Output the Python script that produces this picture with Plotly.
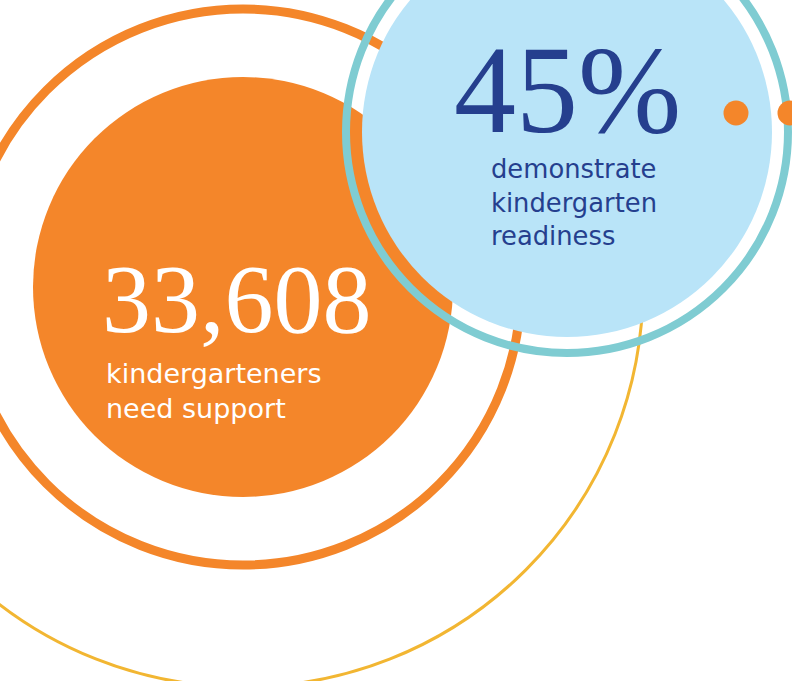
import plotly.graph_objects as go

W, H = 792, 681

# ---- data (the two headline statistics) ----
stat_values = ["33,608", "45%"]
stat_labels = ["kindergarteners<br>need support",
               "demonstrate<br>kindergarten<br>readiness"]

# ---- style / layout ----
ORANGE = "#F4862A"
YELLOW = "#F2B632"
TEAL = "#7FCCD2"
LIGHTBLUE = "#B9E4F8"
NAVY = "#253F8E"

orange_c = (243, 287)
blue_c = (567, 132)
circles = [
    (orange_c, 400, None, YELLOW, 3),
    (orange_c, 278, None, ORANGE, 9),
    (orange_c, 210, ORANGE, None, 0),
    (blue_c, 221, None, TEAL, 8),
    (blue_c, 205, LIGHTBLUE, None, 0),
    ((736, 113), 12.5, ORANGE, None, 0),
    ((790, 113), 12.5, ORANGE, None, 0),
]

shapes = []
for (cx, cy), r, fill, lc, lw in circles:
    shp = dict(type="circle", xref="x", yref="y",
               x0=cx - r, x1=cx + r, y0=cy - r, y1=cy + r, layer="above",
               fillcolor=fill if fill else "rgba(0,0,0,0)",
               line=dict(color=lc, width=lw) if lc else dict(width=0))
    shapes.append(shp)

SERIF = "Liberation Serif"
SANS = "DejaVu Sans"
SERIF_DESC = 0.216
SANS_ASC = 0.928


def number_at(x, baseline, text, size, color):
    return dict(x=x, y=baseline + 1 + SERIF_DESC * size, text=text,
                xanchor="left", yanchor="bottom", showarrow=False,
                font=dict(family=SERIF, size=size, color=color))


def label_at(x, baseline, text, size, color):
    return dict(x=x, y=baseline - 1 - SANS_ASC * size, text=text,
                xanchor="left", yanchor="top", align="left", showarrow=False,
                font=dict(family=SANS, size=size, color=color))


annotations = [
    number_at(100, 333, stat_values[0], 98, "white"),
    number_at(452, 133, stat_values[1], 124, NAVY),
    label_at(104, 382, stat_labels[0], 27, "white"),
    label_at(489, 177, stat_labels[1], 25.8, NAVY),
]

fig = go.Figure()
fig.add_trace(go.Scatter(x=[0, W], y=[0, H], mode="markers",
                         marker=dict(opacity=0), hoverinfo="skip",
                         showlegend=False))
fig.update_layout(
    width=W, height=H, margin=dict(l=0, r=0, t=0, b=0),
    paper_bgcolor="white", plot_bgcolor="white",
    xaxis=dict(range=[0, W], visible=False, fixedrange=True),
    yaxis=dict(range=[H, 0], visible=False, fixedrange=True),
    shapes=shapes, annotations=annotations, showlegend=False,
)
fig.write_html("out.html", config={"displayModeBar": False})
